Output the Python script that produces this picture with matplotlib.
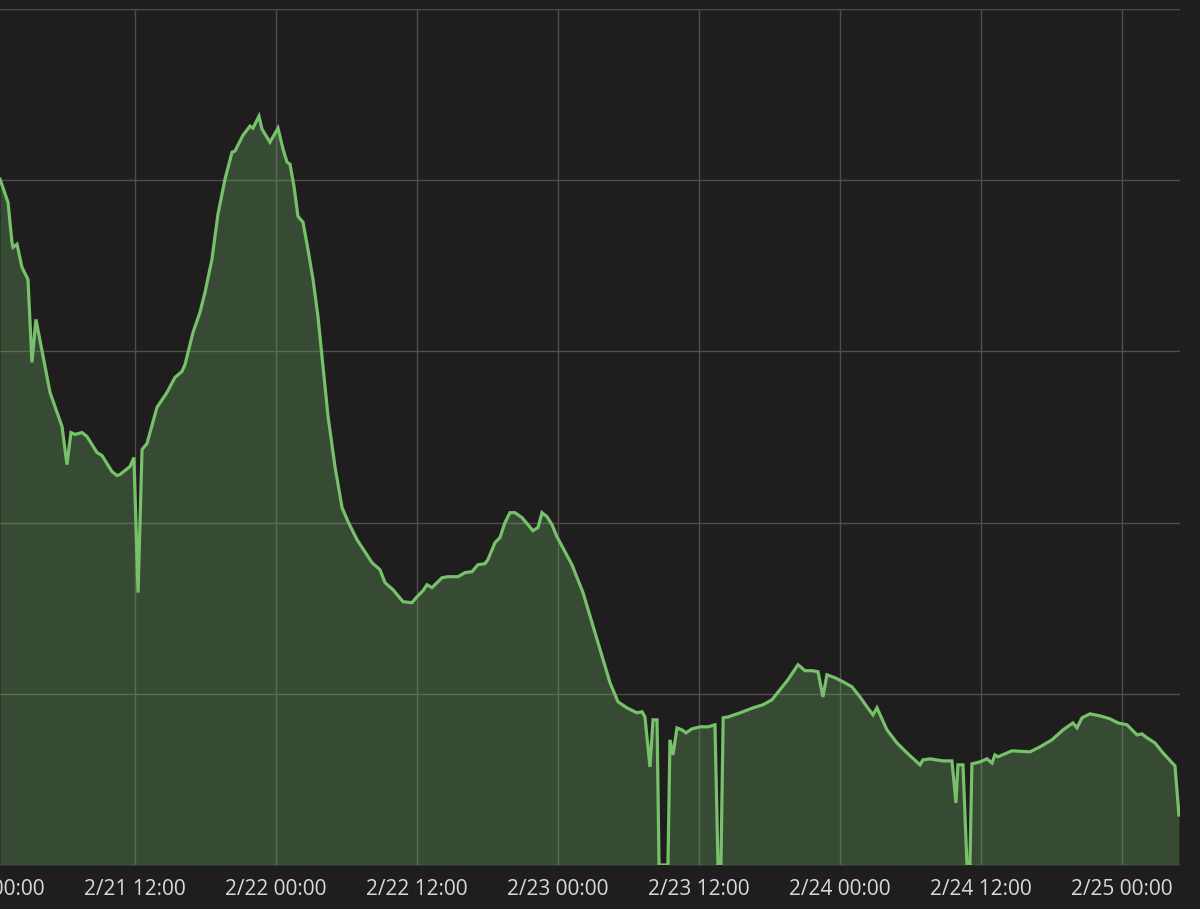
import matplotlib
matplotlib.use("Agg")
import matplotlib.pyplot as plt
import matplotlib.dates as mdates
from matplotlib.ticker import FuncFormatter, MultipleLocator
import pandas as pd

# hours since 2/21 00:00 and the metric value at that time
hours = [
    0.51, 1.19, 1.53, 1.62, 1.96, 2.38, 2.89, 3.23, 3.57, 4.77, 5.79, 6.21, 6.55, 6.89,
    7.49, 7.91, 8.77, 9.19, 10.04, 10.47, 10.72, 11.57, 11.91, 12.26, 12.60, 13.02,
    13.87, 14.72, 15.40, 16.00, 16.26, 16.94, 17.53, 17.96, 18.55, 19.06, 19.66, 20.26,
    20.51, 21.19, 21.79, 22.04, 22.55, 22.81, 23.49, 24.17, 24.60, 24.94, 25.19, 25.53,
    25.87, 26.30, 26.72, 27.15, 27.57, 28.00, 28.43, 29.02, 29.62, 30.13, 30.89, 32.17,
    32.85, 33.28, 33.96, 34.81, 35.57, 36.00, 36.51, 36.85, 37.28, 38.13, 38.64, 39.49,
    40.09, 40.68, 41.19, 41.79, 42.04, 42.64, 43.06, 43.49, 43.91, 44.34, 44.94, 45.87,
    46.30, 46.64, 47.06, 47.49, 47.91, 49.19, 50.13, 51.15, 52.43, 53.11, 53.87, 54.72,
    55.15, 55.40, 55.83, 56.09, 56.43, 56.60, 57.36, 57.53, 57.79, 58.13, 58.55, 58.89,
    59.40, 60.09, 60.77, 61.36, 61.62, 61.87, 62.06, 62.48, 63.51, 64.60, 65.45, 66.21,
    66.89, 67.57, 68.43, 69.02, 69.62, 70.13, 70.55, 70.89, 71.57, 72.26, 73.02, 73.70,
    74.30, 74.81, 75.15, 76.00, 76.85, 77.70, 78.81, 79.06, 79.66, 80.77, 81.53, 81.87,
    82.04, 82.47, 82.81, 83.06, 83.23, 83.91, 84.51, 84.94, 85.19, 85.45, 86.64, 88.17,
    89.02, 90.04, 90.98, 91.83, 92.17, 92.60, 93.28, 94.13, 94.98, 95.66, 96.43, 97.28,
    97.70, 98.13, 98.81, 99.49, 100.51, 100.85,
]
values = [
    40.06, 38.71, 36.37, 36.08, 36.26, 34.91, 34.21, 29.36, 31.87, 27.60, 25.61, 23.39, 25.26, 25.15,
    25.26, 25.03, 24.09, 23.92, 22.98, 22.75, 22.81, 23.27, 23.80, 15.91, 24.27, 24.62,
    26.73, 27.60, 28.48, 28.83, 29.24, 31.11, 32.28, 33.45, 35.38, 38.01, 40.06, 41.64,
    41.70, 42.63, 43.16, 43.04, 43.74, 42.98, 42.22, 43.04, 41.81, 41.05, 40.94, 39.65,
    37.89, 37.54, 35.96, 34.21, 32.05, 29.12, 26.20, 23.27, 20.88, 20.06, 19.01, 17.66,
    17.25, 16.49, 16.08, 15.38, 15.32, 15.67, 16.02, 16.37, 16.20, 16.78, 16.84, 16.84,
    17.08, 17.13, 17.54, 17.60, 17.84, 18.83, 19.12, 20.00, 20.58, 20.58, 20.29, 19.53,
    19.71, 20.58, 20.35, 19.88, 19.18, 17.54, 15.91, 13.57, 10.64, 9.53, 9.18, 8.89,
    8.95, 8.65, 5.73, 8.48, 8.48, 0.0, 0.0, 7.31, 6.43, 8.01, 7.89, 7.72,
    7.95, 8.07, 8.07, 8.19, 0.0, 0.0, 8.60, 8.65, 8.89, 9.18, 9.36, 9.65,
    10.23, 10.82, 11.70, 11.35, 11.35, 11.29, 9.82, 11.11, 10.94, 10.70, 10.41, 9.82,
    9.24, 8.77, 9.18, 7.89, 7.13, 6.55, 5.85, 6.14, 6.20, 6.08, 6.08, 3.63,
    5.85, 5.85, 0.0, 0.0, 5.91, 6.02, 6.20, 5.96, 6.43, 6.32, 6.67, 6.61,
    6.90, 7.31, 7.89, 8.30, 8.01, 8.60, 8.83, 8.71, 8.54, 8.30, 8.19, 7.60,
    7.66, 7.43, 7.13, 6.55, 5.79, 2.92,
]

start = pd.Timestamp("2024-02-21 00:00")
times = start + pd.to_timedelta(hours, unit="h")

bg = "#1f1d1e"
green = "#76c16a"

fig = plt.figure(figsize=(12, 9.09), dpi=100, facecolor=bg)
ax = fig.add_axes([-6 / 1200, 44 / 909, 1186 / 1200, 856 / 909])
ax.set_facecolor(bg)

ax.fill_between(times, values, 0, color=green, alpha=0.28, lw=0)
ax.plot(times, values, color=green, lw=2.3, solid_joinstyle="miter")

ax.set_xlim(start, start + pd.Timedelta(hours=100.94))
ax.set_ylim(0, 50)

ax.xaxis.set_major_locator(mdates.HourLocator(byhour=[0, 12]))


def fmt(x, pos):
    d = mdates.num2date(x)
    return f"{d.month}/{d.day} {d:%H:%M}"


ax.xaxis.set_major_formatter(FuncFormatter(fmt))
ax.yaxis.set_major_locator(MultipleLocator(10))
ax.tick_params(axis="x", length=0, pad=10, labelsize=15, colors="#d8d9da")
ax.tick_params(axis="y", length=0, labelleft=False)
for lab in ax.get_xticklabels():
    lab.set_family(["Open Sans", "DejaVu Sans"])

ax.grid(True, color="#4e4e4e", lw=1)
ax.set_axisbelow(True)
for s in ax.spines.values():
    s.set_visible(False)

fig.savefig("out.png", facecolor=bg)
